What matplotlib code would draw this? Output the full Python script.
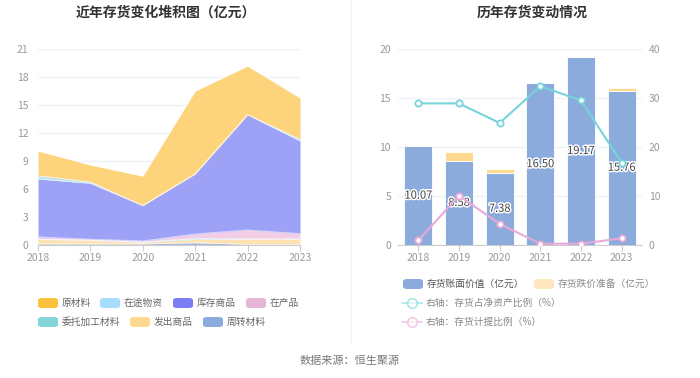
import matplotlib
matplotlib.use("Agg")
import matplotlib.pyplot as plt
from matplotlib.patches import FancyBboxPatch
from matplotlib.lines import Line2D
import matplotlib.patheffects as pe
import numpy as np

plt.rcParams['font.family'] = ['Noto Sans CJK SC', 'DejaVu Sans']

years = ['2018', '2019', '2020', '2021', '2022', '2023']

# stacked components (亿元)
raw_material = [2.64, 1.81, 3.14, 8.86, 5.20, 4.40]      # 原材料
in_transit = [0.35, 0.15, 0.02, 0.02, 0.02, 0.20]        # 在途物资
stock_goods = [6.21, 6.00, 3.78, 6.44, 12.34, 9.94]      # 库存商品
wip = [0.25, 0.10, 0.12, 0.48, 0.96, 0.57]               # 在产品
consigned = [0.02, 0.02, 0.05, 0.10, 0.02, 0.02]         # 委托加工材料
shipped = [0.48, 0.38, 0.15, 0.35, 0.55, 0.55]           # 发出商品
turnover = [0.12, 0.12, 0.12, 0.25, 0.08, 0.08]          # 周转材料

book_value = [10.07, 8.58, 7.38, 16.50, 19.17, 15.76]    # 存货账面价值
impairment = [0.10, 0.95, 0.33, 0.05, 0.05, 0.22]        # 存货跌价准备
ratio_net_assets = [28.9, 28.9, 24.9, 32.4, 29.5, 16.8]  # 存货占净资产比例 %
provision_ratio = [0.95, 10.07, 4.3, 0.27, 0.27, 1.36]   # 存货计提比例 %

W, H = 700, 378
fig = plt.figure(figsize=(W / 100, H / 100), dpi=100)


def fx(x):
    return x / W


def fy(y):
    return 1 - y / H


def ax_rect(x0, y0, x1, y1):
    return [fx(x0), fy(y1), fx(x1) - fx(x0), fy(y0) - fy(y1)]


tick_color = '#999999'
grid_color = '#eef1f7'
axis_color = '#cccccc'

# ---------------- left chart ----------------
ax1 = fig.add_axes(ax_rect(38, 49, 300, 245))
x = np.arange(len(years))
# bottom to top
layers = [turnover, shipped, consigned, wip, stock_goods, in_transit, raw_material]
fill_colors = ['#a2b9e4', '#fee2b2', '#a9e3e3', '#f1cde6', '#9ea2f7', '#b8e3f8', '#fdd47b']
base = np.zeros(len(years))
for vals, c in zip(layers, fill_colors):
    top = base + np.array(vals)
    ax1.fill_between(x, base, top, color=c, lw=0)
    ax1.plot(x, top, color='white', lw=0.6, alpha=0.6)
    base = top
ax1.set_xlim(0, 5)
ax1.set_ylim(0, 21)
ax1.set_yticks(range(0, 22, 3))
ax1.set_xticks(x)
ax1.set_xticklabels(years)
for s in ['top', 'right', 'left']:
    ax1.spines[s].set_visible(False)
ax1.spines['bottom'].set_color(axis_color)
ax1.tick_params(axis='y', length=0, pad=7, labelsize=7.5, labelcolor=tick_color)
ax1.tick_params(axis='x', length=4, color=axis_color, pad=2, labelsize=7.5, labelcolor=tick_color)
ax1.grid(axis='y', color=grid_color, lw=1)
ax1.set_axisbelow(True)

# ---------------- right chart ----------------
ax2 = fig.add_axes(ax_rect(398, 49, 642, 245))
bar_blue = '#8aabdc'
bar_top = '#ffd98f'
ax2.bar(x, book_value, width=0.69, color=bar_blue, edgecolor='white', lw=0.6, zorder=2)
ax2.bar(x, impairment, bottom=book_value, width=0.69, color=bar_top, edgecolor='white', lw=0.6, zorder=2)
for xi, v in zip(x, book_value):
    ax2.text(xi, v / 2, f'{v:.2f}', ha='center', va='center', fontsize=8, color='#444444', zorder=5,
             path_effects=[pe.withStroke(linewidth=2.2, foreground='white')])
ax2.set_xlim(-0.5, 5.5)
ax2.set_ylim(0, 20)
ax2.set_yticks(range(0, 21, 5))
ax2.set_xticks(x)
ax2.set_xticklabels(years)
for s in ['top', 'right', 'left']:
    ax2.spines[s].set_visible(False)
ax2.spines['bottom'].set_color(axis_color)
ax2.tick_params(axis='y', length=0, pad=5, labelsize=7.5, labelcolor=tick_color)
ax2.tick_params(axis='x', length=4, color=axis_color, pad=2, labelsize=7.5, labelcolor=tick_color)
ax2.grid(axis='y', color=grid_color, lw=1)
ax2.set_axisbelow(True)

ax3 = ax2.twinx()
ax3.set_ylim(0, 40)
ax3.set_yticks(range(0, 41, 10))
for s in ['top', 'right', 'left', 'bottom']:
    ax3.spines[s].set_visible(False)
ax3.tick_params(axis='y', length=0, pad=5, labelsize=7.5, labelcolor=tick_color)
teal = '#77d4d8'
pink = '#e8a9d9'
ax3.plot(x, ratio_net_assets, color=teal, lw=1.5, marker='o', ms=4.5, mfc='white', mec=teal, mew=1.3, zorder=4)
ax3.plot(x, provision_ratio, color=pink, lw=1.5, marker='o', ms=4.5, mfc='white', mec=pink, mew=1.3, zorder=4)

# ---------------- titles / separator / source ----------------
fig.text(fx(166), fy(13), '近年存货变化堆积图（亿元）', ha='center', va='center', fontsize=10,
         fontweight='bold', color='#333333')
fig.text(fx(532), fy(13), '历年存货变动情况', ha='center', va='center', fontsize=10,
         fontweight='bold', color='#333333')
fig.add_artist(Line2D([fx(351), fx(351)], [fy(0), fy(342)], color='#f2f2f2', lw=1))
fig.text(fx(350), fy(361), '数据来源：恒生聚源', ha='center', va='center', fontsize=8, color='#777777')


def legend_patch(x0, y, color, label, tcolor='#666666'):
    p = FancyBboxPatch((fx(x0), fy(y + 5)), fx(20), fy(0) - fy(10),
                       boxstyle='round,pad=0,rounding_size=0.006', transform=fig.transFigure,
                       fc=color, ec='none')
    fig.add_artist(p)
    fig.text(fx(x0 + 24), fy(y), label, ha='left', va='center', fontsize=7, color=tcolor)


def legend_line(x0, y, color, label, tcolor='#888888'):
    fig.add_artist(Line2D([fx(x0), fx(x0 + 20)], [fy(y), fy(y)], color=color, lw=1.2, alpha=0.6))
    fig.add_artist(Line2D([fx(x0 + 10)], [fy(y)], marker='o', ms=7, mfc='white', mec=color,
                          mew=1.2, alpha=0.6, lw=0))
    fig.text(fx(x0 + 24), fy(y), label, ha='left', va='center', fontsize=7, color=tcolor)


# left legend
legend_patch(38, 303, '#fdc13c', '原材料')
legend_patch(100, 303, '#a6dcfc', '在途物资')
legend_patch(173, 303, '#7a7ef2', '库存商品')
legend_patch(246, 303, '#e8b5d8', '在产品')
legend_patch(38, 322, '#86d5d9', '委托加工材料')
legend_patch(130, 322, '#ffd990', '发出商品')
legend_patch(203, 322, '#8aabdc', '周转材料')

# right legend
legend_patch(403, 284, bar_blue, '存货账面价值（亿元）', '#555555')
legend_patch(534, 284, '#fee6c0', '存货跌价准备（亿元）', '#888888')
legend_line(402, 303, teal, '右轴：存货占净资产比例（%）')
legend_line(402, 322, pink, '右轴：存货计提比例（%）')

fig.savefig('out.png', dpi=100)
